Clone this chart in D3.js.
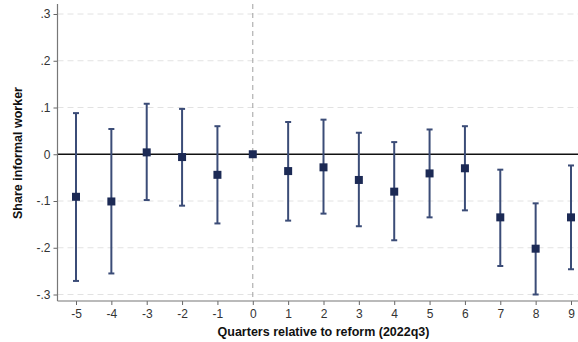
<!DOCTYPE html>
<html>
<head>
<meta charset="utf-8">
<script src="https://cdn.jsdelivr.net/npm/d3@7"></script>
<style>
  body { margin: 0; background: #fff; }
  text { font-family: "Liberation Sans", Arial, sans-serif; }
</style>
</head>
<body>
<div id="vis-container"></div>
<script>
// quarters relative to reform and estimated coefficients with 95% CI
var quarters = [-5, -4, -3, -2, -1, 0, 1, 2, 3, 4, 5, 6, 7, 8, 9];
var coef  = [-0.091, -0.101, 0.004, -0.006, -0.044, 0, -0.036, -0.028, -0.055, -0.080, -0.041, -0.030, -0.135, -0.202, -0.135];
var lower = [-0.271, -0.255, -0.098, -0.110, -0.148, null, -0.142, -0.127, -0.154, -0.184, -0.135, -0.120, -0.239, -0.300, -0.246];
var upper = [0.088, 0.054, 0.108, 0.097, 0.060, null, 0.069, 0.074, 0.046, 0.026, 0.053, 0.060, -0.033, -0.105, -0.024];
var yTicks = [-0.3, -0.2, -0.1, 0, 0.1, 0.2, 0.3];
var yTickLabels = ["-.3", "-.2", "-.1", "0", ".1", ".2", ".3"];

var data = quarters.map((q, i) => ({ q: q, b: coef[i], lo: lower[i], hi: upper[i] }));

var width = 578, height = 342;
var plotLeft = 57.5, plotRight = 578, plotTop = 4, plotBottom = 301;

var svg = d3.select("#vis-container").append("svg")
    .attr("width", width)
    .attr("height", height);

var x = d3.scaleLinear().domain([-5, 9]).range([76, 571]);
var y = d3.scaleLinear().domain([-0.3, 0.3]).range([294.5, 14]);

// horizontal dashed grid
svg.append("g").selectAll("line")
    .data(yTicks.filter(d => d !== 0))
    .enter().append("line")
    .attr("x1", plotLeft).attr("x2", plotRight)
    .attr("y1", d => y(d)).attr("y2", d => y(d))
    .attr("stroke", "#e2e2e2")
    .attr("stroke-width", 1)
    .attr("stroke-dasharray", "6,4");

// reform line
svg.append("line")
    .attr("x1", x(0)).attr("x2", x(0))
    .attr("y1", plotTop).attr("y2", plotBottom)
    .attr("stroke", "#a0a0a0")
    .attr("stroke-width", 1)
    .attr("stroke-dasharray", "5,4");

// zero line
svg.append("line")
    .attr("x1", plotLeft).attr("x2", plotRight)
    .attr("y1", y(0)).attr("y2", y(0))
    .attr("stroke", "#111")
    .attr("stroke-width", 1.3);

// axes
var yAxis = svg.append("g")
    .attr("transform", "translate(" + plotLeft + ",0)")
    .call(d3.axisLeft(y).tickValues(yTicks).tickFormat((d, i) => yTickLabels[i]).tickSize(4).tickPadding(3).tickSizeOuter(0));

var xAxis = svg.append("g")
    .attr("transform", "translate(0," + plotBottom + ")")
    .call(d3.axisBottom(x).tickValues(quarters).tickFormat(d => String(d)).tickSize(4).tickPadding(4).tickSizeOuter(0));

[yAxis, xAxis].forEach(a => {
    a.select(".domain").remove();
    a.selectAll(".tick line").attr("stroke", "#666");
    a.selectAll("text").attr("fill", "#333").style("font-size", "12px");
});
yAxis.append("line").attr("x1", 0).attr("x2", 0).attr("y1", plotTop).attr("y2", plotBottom)
    .attr("stroke", "#777").attr("stroke-width", 1.2);
xAxis.append("line").attr("x1", plotLeft).attr("x2", plotRight).attr("y1", 0).attr("y2", 0)
    .attr("stroke", "#777").attr("stroke-width", 1.2);

// confidence intervals
var ci = data.filter(d => d.lo !== null);
var bars = svg.append("g").attr("stroke", "#3b4c77").attr("stroke-width", 2);
bars.selectAll(".ci").data(ci).enter().append("line")
    .attr("x1", d => x(d.q)).attr("x2", d => x(d.q))
    .attr("y1", d => y(d.lo)).attr("y2", d => y(d.hi));
bars.selectAll(".cap-lo").data(ci).enter().append("line")
    .attr("x1", d => x(d.q) - 3).attr("x2", d => x(d.q) + 3)
    .attr("y1", d => y(d.lo)).attr("y2", d => y(d.lo));
bars.selectAll(".cap-hi").data(ci).enter().append("line")
    .attr("x1", d => x(d.q) - 3).attr("x2", d => x(d.q) + 3)
    .attr("y1", d => y(d.hi)).attr("y2", d => y(d.hi));

// point estimates
var s = 8;
svg.append("g").selectAll("rect").data(data).enter().append("rect")
    .attr("x", d => x(d.q) - s / 2)
    .attr("y", d => y(d.b) - s / 2)
    .attr("width", s).attr("height", s)
    .attr("fill", "#1c2a55");

// axis titles
svg.append("text")
    .attr("transform", "translate(22,153) rotate(-90)")
    .attr("text-anchor", "middle")
    .style("font-size", "12.5px").style("font-weight", "bold")
    .attr("fill", "#111")
    .text("Share informal worker");

svg.append("text")
    .attr("x", 323.5).attr("y", 336)
    .attr("text-anchor", "middle")
    .style("font-size", "12.5px").style("font-weight", "bold")
    .attr("fill", "#111")
    .text("Quarters relative to reform (2022q3)");
</script>
</body>
</html>
